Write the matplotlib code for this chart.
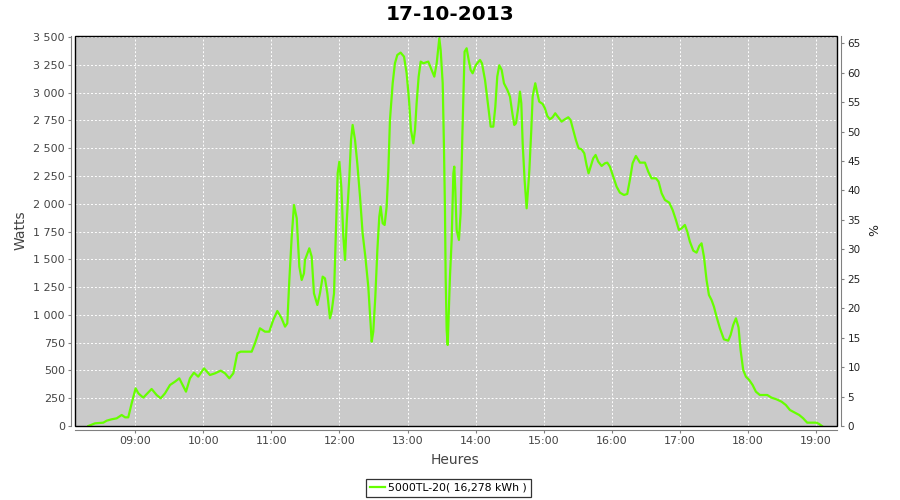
import matplotlib
matplotlib.use("Agg")
import matplotlib.pyplot as plt
from matplotlib.patches import Rectangle

title = "17-10-2013"
serie = "5000TL-20( 16,278 kWh )"

# minutes since midnight / power in W
minutes = [
    498.6, 504.5, 511.8, 514.8, 519.0, 523.6, 528.0, 531.0, 533.8, 536.8,
    540.3, 542.7, 547.0, 554.4, 558.8, 562.4, 566.2, 570.6, 575.0, 578.8,
    581.8, 584.7, 588.2, 591.7, 595.5, 600.6, 605.8, 610.3, 615.3, 619.1,
    622.9, 626.4, 629.9, 632.9, 642.6, 645.5, 649.9, 654.3, 658.1, 661.6,
    665.2, 669.0, 672.0, 674.0, 675.8, 677.9, 679.9, 682.3, 684.6, 686.7,
    688.7,
    689.6, 693.4, 695.5, 697.5, 700.5, 702.8, 705.2, 707.2, 709.3, 711.6,
    713.1, 715.2, 716.9, 718.4, 719.9, 721.6, 723.4, 724.9, 726.3, 728.7,
    730.2, 731.6, 733.7, 735.7, 738.1, 740.4, 742.8, 745.4, 746.9, 748.4,
    749.8, 751.6, 753.4, 755.1, 756.3, 758.1, 759.8, 761.6, 763.1, 764.5,
    766.9, 768.9, 771.0, 773.9, 776.9, 779.2, 781.3, 783.0, 785.1, 786.6,
    788.0, 789.8, 791.6, 793.9, 798.3, 801.3, 803.6, 805.7, 808.0, 809.2,
    811.0, 812.1, 813.0, 813.6, 814.5, 815.4, 816.2, 817.4, 818.9, 820.4,
    821.2, 822.1, 823.3, 825.3, 826.8, 828.3, 829.2, 830.3, 832.1, 833.9,
    835.6, 837.4, 840.3, 843.9, 845.6, 848.3, 851.2, 853.3, 855.6, 857.4,
    859.1, 860.9, 863.0, 865.0, 868.0, 870.3, 872.4, 874.1, 875.6, 877.7,
    879.1, 880.3, 881.5, 883.2, 885.0, 886.2, 887.4, 889.1,
    890.3, 891.4, 892.6, 894.4, 896.1, 899.1, 901.1, 903.2, 905.5, 907.9,
    910.2, 912.9, 915.8, 918.7, 921.7, 923.7, 926.1, 928.4, 930.8, 933.4,
    935.8, 937.8, 939.6, 941.4, 943.7, 945.8, 948.1, 951.1, 954.0, 956.1,
    958.4, 961.4, 964.3, 967.2, 970.8, 973.7, 976.0, 978.4, 981.3, 984.9,
    989.3, 992.2, 995.1, 999.0, 1001.3, 1004.0, 1006.9, 1010.7, 1013.7, 1016.6,
    1019.2, 1021.6, 1024.5, 1026.6, 1028.9, 1031.9, 1034.8, 1037.2, 1039.2, 1041.3,
    1043.6, 1045.7, 1048.0, 1050.1, 1052.4, 1055.4, 1058.9, 1062.7, 1064.8, 1067.1,
    1069.5, 1071.8, 1073.6, 1075.9, 1078.3, 1081.2, 1084.2, 1087.1, 1090.6, 1097.1,
    1100.9, 1105.3, 1109.7, 1113.5, 1117.1, 1121.5, 1125.3, 1128.8, 1132.3, 1140.6,
    1142.9, 1145.3,
]
watts = [
    0, 24, 30, 48, 60, 69, 99, 78, 78, 204,
    339, 294, 255, 333, 279, 249, 294, 369, 399, 429,
    369, 309, 429, 480, 444, 519, 459, 474, 498, 474,
    429, 474, 654, 669, 669, 744, 879, 849, 849, 954,
    1035, 969, 894, 924, 1314, 1704, 1989, 1869, 1434, 1314,
    1374,
    1494, 1599, 1524, 1194, 1089, 1194, 1344, 1329, 1194, 969,
    1029, 1194, 1764, 2274, 2379, 2154, 1704, 1494, 1824, 2244,
    2574, 2709, 2574, 2364, 2064, 1734, 1524, 1254, 1014, 759,
    849, 1164, 1584, 1884, 1974, 1824, 1809, 1974, 2304, 2754,
    3084, 3264, 3339, 3360, 3324, 3174, 2934, 2664, 2544, 2664,
    2904, 3144, 3279, 3264, 3279, 3204, 3144, 3264, 3489, 3384,
    3084, 2514, 1944, 1344, 864, 729, 984, 1344, 1674, 2274,
    2334, 2124, 1764, 1674, 1914, 2604, 2964, 3369, 3399, 3294,
    3204, 3174, 3249, 3294, 3264, 3114, 2874, 2694, 2694, 2874,
    3144, 3246, 3204, 3084, 3024, 2964, 2814, 2709, 2724, 2874,
    3009, 2904, 2544, 2214, 1959, 2124, 2304, 2664,
    2964, 3024, 3084, 2994, 2919, 2898, 2859, 2790, 2760, 2778,
    2814, 2778, 2739, 2760, 2778, 2754, 2664, 2574, 2499, 2490,
    2454, 2349, 2274, 2334, 2409, 2439, 2379, 2340, 2364, 2370,
    2334, 2244, 2154, 2100, 2079, 2088, 2214, 2364, 2430, 2370,
    2370, 2289, 2229, 2229, 2199, 2094, 2034, 2010, 1944, 1854,
    1764, 1779, 1809, 1749, 1659, 1578, 1560, 1620, 1644, 1524,
    1314, 1179, 1134, 1074, 984, 879, 780, 768, 819, 909,
    969, 888, 684, 504, 444, 414, 369, 309, 279, 279,
    255, 240, 219, 189, 144, 120, 99, 69, 30, 30,
    18, 0,
]

hour_ticks = [9, 10, 11, 12, 13, 14, 15, 16, 17, 18, 19]
hour_labels = ["09:00", "10:00", "11:00", "12:00", "13:00", "14:00",
               "15:00", "16:00", "17:00", "18:00", "19:00"]
watt_ticks = [0, 250, 500, 750, 1000, 1250, 1500, 1750, 2000, 2250,
              2500, 2750, 3000, 3250, 3500]
watt_labels = ["0", "250", "500", "750", "1 000", "1 250", "1 500", "1 750",
               "2 000", "2 250", "2 500", "2 750", "3 000", "3 250", "3 500"]
pct_ticks = [0, 5, 10, 15, 20, 25, 30, 35, 40, 45, 50, 55, 60, 65]

axis_grey = "#808080"
text_grey = "#444444"

fig = plt.figure(figsize=(9, 5), dpi=100)
ax = fig.add_axes([0.0837, 0.148, 0.8463, 0.781])
ax.set_facecolor("#cacaca")

hours = [m / 60 for m in minutes]
ax.plot(hours, watts, color="#66ff00", linewidth=1.6, label=serie, zorder=3)

ax.set_xlim(8.119, 19.31)
ax.set_ylim(0, 3514)
ax.set_xticks(hour_ticks)
ax.set_xticklabels(hour_labels)
ax.set_yticks(watt_ticks)
ax.set_yticklabels(watt_labels)
ax.grid(True, color="white", linestyle=(0, (2, 2)), linewidth=0.7)
ax.set_axisbelow(True)

for s in ("top", "right"):
    ax.spines[s].set_visible(False)
for s in ("left", "bottom"):
    ax.spines[s].set_position(("outward", 3))
    ax.spines[s].set_color(axis_grey)
ax.tick_params(length=2.5, color=axis_grey, labelsize=8, labelcolor=text_grey, pad=2)

# black plot frame, axis lines sit a few px outside it
ax.add_patch(Rectangle((0, 0), 1, 1, transform=ax.transAxes, fill=False,
                       edgecolor="black", linewidth=1.0, zorder=5, clip_on=False))

ax2 = ax.twinx()
ax2.set_ylim(0, 66.3)
ax2.set_yticks(pct_ticks)
for s in ("top", "left", "bottom"):
    ax2.spines[s].set_visible(False)
ax2.spines["right"].set_position(("outward", 3))
ax2.spines["right"].set_color(axis_grey)
ax2.tick_params(length=2.5, color=axis_grey, labelsize=7.5, labelcolor="#222222", pad=2)

fig.text(0.5, 0.972, title, ha="center", va="center", fontsize=14.5, fontweight="bold")
fig.text(0.023, 0.539, "Watts", rotation=90, ha="center", va="center",
         fontsize=10, color=text_grey)
fig.text(0.968, 0.539, "%", rotation=270, ha="center", va="center",
         fontsize=9, color="#222222")
fig.text(0.506, 0.080, "Heures", ha="center", va="center", fontsize=10, color=text_grey)

leg = fig.legend(loc="center", bbox_to_anchor=(0.498, 0.024), frameon=True,
                 fancybox=False, edgecolor="black", fontsize=7.8, handlelength=1.4,
                 handletextpad=0.3, borderpad=0.35, borderaxespad=0)
leg.get_frame().set_linewidth(0.9)

fig.savefig("out.png", dpi=100)
